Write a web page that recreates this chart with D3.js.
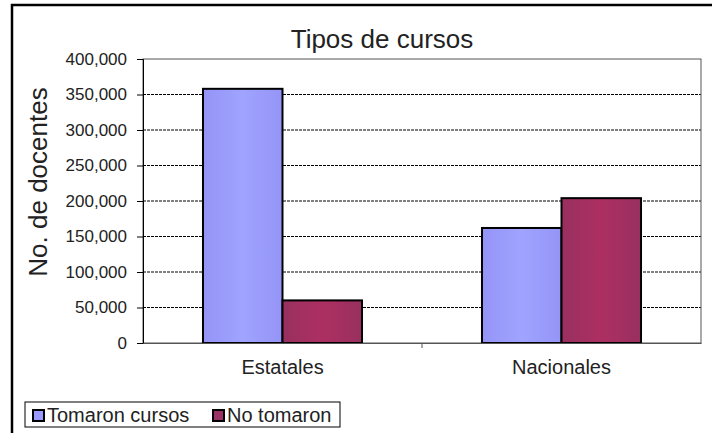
<!DOCTYPE html>
<html>
<head>
<meta charset="utf-8">
<script src="https://cdn.jsdelivr.net/npm/d3@7"></script>
<style>
  body { margin: 0; background: #fff; }
  text { font-family: "Liberation Sans", Arial, sans-serif; fill: #222; }
</style>
</head>
<body>
<div id="chart"></div>
<script>
// data
var categories = ["Estatales", "Nacionales"];
var seriesNames = ["Tomaron cursos", "No tomaron"];
var tomaron = [358000, 162000];
var noTomaron = [60000, 204000];
var yTicks = [0, 50000, 100000, 150000, 200000, 250000, 300000, 350000, 400000];

var W = 712, H = 433;
var margin = {top: 59, right: 11, bottom: 90, left: 143},
    width = W - margin.left - margin.right,
    height = H - margin.top - margin.bottom;

var svg = d3.select("#chart").append("svg")
    .attr("width", W).attr("height", H);

// outer frame
svg.append("rect")
    .attr("x", 12).attr("y", 5)
    .attr("width", W + 20).attr("height", H + 20)
    .attr("fill", "none").attr("stroke", "#000").attr("stroke-width", 2.5);

var defs = svg.append("defs");
function grad(id, c1, c2) {
  var g = defs.append("linearGradient").attr("id", id)
      .attr("x1", "0%").attr("x2", "100%").attr("y1", "0%").attr("y2", "0%");
  g.append("stop").attr("offset", "0%").attr("stop-color", c1);
  g.append("stop").attr("offset", "50%").attr("stop-color", c2);
  g.append("stop").attr("offset", "100%").attr("stop-color", c1);
}
grad("gBlue", "#9494f6", "#a0a3ff");
grad("gRed", "#98305f", "#ad2f62");

var g = svg.append("g")
    .attr("transform", "translate(" + margin.left + "," + margin.top + ")");

var x = d3.scaleBand().domain(categories).range([0, width]).padding(0);
var x1 = d3.scaleBand().domain(seriesNames).range([x.bandwidth() * 0.215, x.bandwidth() * 0.785]);
var y = d3.scaleLinear().domain([0, 400000]).range([height, 0]);

// gridlines
g.selectAll(".grid").data(yTicks.filter(function(d){ return d > 0 && d < 400000; }))
  .enter().append("line")
    .attr("x1", 0).attr("x2", width)
    .attr("y1", function(d){ return y(d); }).attr("y2", function(d){ return y(d); })
    .attr("stroke", "#000").attr("stroke-width", 1)
    .attr("stroke-dasharray", "3,1");

// plot frame
g.append("rect")
    .attr("x", 0).attr("y", 0).attr("width", width).attr("height", height)
    .attr("fill", "none").attr("stroke", "#555").attr("stroke-width", 1);

// bars
var groups = g.selectAll(".cat").data(categories).enter().append("g")
    .attr("transform", function(d){ return "translate(" + x(d) + ",0)"; });

groups.each(function(c, i) {
  var vals = [tomaron[i], noTomaron[i]];
  d3.select(this).selectAll("rect").data(vals).enter().append("rect")
    .attr("x", function(d, j){ return x1(seriesNames[j]); })
    .attr("y", function(d){ return y(d); })
    .attr("width", x1.bandwidth())
    .attr("height", function(d){ return height - y(d); })
    .attr("fill", function(d, j){ return j == 0 ? "url(#gBlue)" : "url(#gRed)"; })
    .attr("stroke", "#000").attr("stroke-width", 2);
});

// y axis
var yAxis = d3.axisLeft(y).tickValues(yTicks).tickSize(6).tickPadding(10)
    .tickFormat(d3.format(","));
var ya = g.append("g").call(yAxis);
ya.select(".domain").attr("stroke", "#000");
ya.selectAll("text").style("font-size", "17px").attr("fill", "#222");

// x axis
var xa = g.append("g").attr("transform", "translate(0," + height + ")")
    .call(d3.axisBottom(x).tickSize(0).tickPadding(17));
xa.select(".domain").attr("stroke", "#555");
xa.selectAll("text").style("font-size", "20px").attr("fill", "#222");
g.append("line").attr("x1", x.bandwidth()).attr("x2", x.bandwidth())
    .attr("y1", height).attr("y2", height + 5).attr("stroke", "#555");

// title
svg.append("text")
    .attr("x", 382).attr("y", 48)
    .attr("text-anchor", "middle")
    .style("font-size", "26px")
    .text("Tipos de cursos");

// y label
svg.append("text")
    .attr("transform", "translate(47,182) rotate(-90)")
    .attr("text-anchor", "middle")
    .style("font-size", "26px")
    .text("No. de docentes");

// legend
var leg = svg.append("g").attr("transform", "translate(25,402)");
leg.append("rect").attr("width", 315).attr("height", 25)
    .attr("fill", "#fff").attr("stroke", "#000").attr("stroke-width", 1);
var legX = [8, 188];
seriesNames.forEach(function(s, i) {
  leg.append("rect").attr("x", legX[i]).attr("y", 8).attr("width", 11).attr("height", 11)
    .attr("fill", i == 0 ? "#9999ff" : "#993366").attr("stroke", "#000").attr("stroke-width", 2);
  leg.append("text").attr("x", legX[i] + 14).attr("y", 20)
    .style("font-size", "20px").text(s);
});
</script>
</body>
</html>
